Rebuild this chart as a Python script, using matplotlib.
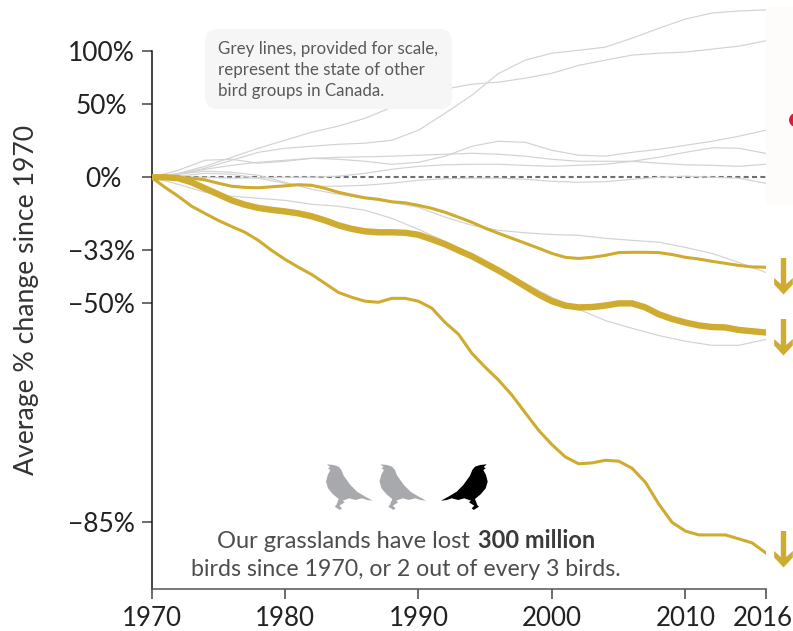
import numpy as np
import matplotlib
matplotlib.use("Agg")
import matplotlib.pyplot as plt
from matplotlib.patches import Polygon, Rectangle, Circle, FancyBboxPatch
from matplotlib.transforms import IdentityTransform, ScaledTranslation

W, H = 793, 631

# % change since 1970
gold_years = list(range(1970, 2017))
grey_years = list(range(1970, 2017, 2))

grasslands_all = [0, 0, -0.5, -2.7, -5.9, -8.9, -11.9, -14.0, -15.5, -16.4, -17.1, -18.0, -19.3, -21.1, -23.2, -24.7,
                  -25.7, -26.1, -26.1, -26.3, -27.1, -28.9, -30.8, -33.1, -35.2, -37.7, -40.1, -42.6, -45.1, -47.5,
                  -49.4, -50.6, -51.1, -51.0, -50.6, -50.0, -50.0, -51.1, -52.9, -54.1, -55.0, -55.7, -56.1, -56.2,
                  -56.8, -57.1, -57.4]
grasslands_upper = [0, 0, -0.3, -0.5, -1.4, -3.2, -4.8, -5.4, -5.6, -5.1, -4.6, -4.0, -4.3, -5.9, -7.9, -9.4,
                    -10.7, -11.4, -12.6, -13.1, -14.3, -15.7, -17.5, -19.7, -21.9, -24.4, -26.5, -28.5, -30.4, -32.3,
                    -34.2, -35.6, -36.0, -35.6, -34.9, -33.9, -33.8, -33.8, -33.9, -34.6, -35.6, -36.2, -37.0, -37.7,
                    -38.4, -38.9, -39.0]
grasslands_lower = [0, -5.3, -9.9, -14.7, -18.0, -21.1, -23.7, -26.1, -29.3, -33.1, -36.3, -39.0, -41.4, -44.2, -46.9,
                    -48.3, -49.4, -49.7, -48.6, -48.6, -49.4, -51.3, -55.0, -57.8, -62.0, -64.8, -67.2, -69.8, -72.6,
                    -75.1, -77.0, -78.5, -79.3, -79.2, -78.9, -79.0, -79.8, -81.3, -83.4, -85.0, -85.7, -86.0, -86.0,
                    -86.0, -86.3, -86.6, -87.3]

grey_lines = [
    [0, 1.7, 5.1, 9.8, 14.7, 17.3, 18.6, 19.9, 20.6, 22.6, 29.5, 42.2,
     57.0, 77.0, 90.4, 97.8, 101, 104.5, 114.8, 126.8, 138.7, 146.7, 149.5, 150.9],
    [0, 2.2, 6.2, 11.6, 17.3, 22.6, 28.1, 32.5, 38.3, 47, 55.2, 62.4,
     66.8, 68.7, 72.4, 77.2, 85, 90.4, 95.7, 97.8, 99, 102.3, 105.6, 111.7],
    [0, 3.9, 9.8, 10.4, 8.0, 9.2, 11, 10.4, 9.2, 7.4, 8.6, 12.3,
     18.6, 21.9, 21.2, 16, 12.9, 12.3, 14.7, 16.6, 19.2, 21.9, 25.3, 29.5],
    [0, 1.7, 4.5, 6.8, 8.6, 9.8, 11, 11.6, 11.9, 12.3, 12.9, 13.5,
     14.1, 13.5, 12.3, 10.4, 9.2, 9.2, 9.2, 8.0, 7.1, 6.8, 6.2, 7.4],
    [0, 0, 0, -0.5, -0.3, 0, 0, 0.6, 2.2, 4.5, 6.2, 7.1,
     7.4, 7.4, 6.8, 6.2, 6.8, 7.4, 9.2, 11.6, 14.7, 17.6, 17.3, 14.1],
    [0, 0.6, 2.2, 1.7, -0.5, -3.2, -4.8, -4.8, -4.3, -3.2, -1.6, -0.8,
     -0.5, -0.5, -1.1, -2.2, -2.7, -2.4, -1.1, 0, 0.6, 0, -0.5, -3.2],
    [0, 1.7, 3.4, 2.8, 1.1, -2.7, -6.4, -8.9, -10.9, -12.9, -15.2, -19.7,
     -23.2, -25.3, -26.3, -27.0, -27.3, -28.5, -29.3, -30.0, -32.0, -34.2, -37.4, -40.7],
    [0, -3.8, -7.9, -9.9, -10.9, -11.9, -13.8, -14.7, -16.6, -20.2, -24.9, -29.7,
     -34.5, -39.4, -44.2, -48.3, -51.6, -54.5, -56.4, -58.1, -59.4, -60.3, -60.3, -59.0],
]

y_ticks = [100, 50, 0, -33, -50, -85]
y_tick_labels = ["100%", "50%", "0%", "\u221233%", "\u221250%", "\u221285%"]
y_tick_pads = [5, 10.8, 14.4, 5, 5, 5]
x_ticks = [1970, 1980, 1990, 2000, 2010, 2016]

GOLD = "#cfab2f"
GREY = "#d2d2d2"

plt.rcParams["font.family"] = ["Lato", "DejaVu Sans"]


# the axis is a ratio scale: +100% and -50% sit the same distance from zero
def to_log(p):
    return np.log2(1 + np.asarray(p, dtype=float) / 100)


def from_log(v):
    return (2 ** np.asarray(v, dtype=float) - 1) * 100


def pix(x, y):
    # pixel position measured from the top left of the picture
    return (x, H - y)


fig = plt.figure(figsize=(W / 100, H / 100), dpi=100)
ax = fig.add_axes([151.5 / W, (H - 589) / H, 614 / W, 589 / H])
ax.set_yscale("function", functions=(to_log, from_log))
ax.set_xlim(1970, 2016)
ax.set_ylim(-89.6, 165)
ax.patch.set_alpha(0)

ax.axhline(0, color="#6d6e71", lw=1.5, dashes=(2.4, 1.6), zorder=1)
for vals in grey_lines:
    ax.plot(grey_years, vals, color=GREY, lw=0.85, zorder=2)
ax.plot(gold_years, grasslands_upper, color=GOLD, lw=2.2, zorder=3, solid_joinstyle="round")
ax.plot(gold_years, grasslands_lower, color=GOLD, lw=2.2, zorder=3, solid_joinstyle="round")
ax.plot(gold_years, grasslands_all, color=GOLD, lw=4.6, zorder=3, solid_joinstyle="round")

for side in ["top", "right"]:
    ax.spines[side].set_visible(False)
ax.spines["left"].set_bounds(-89.6, 100)
ax.spines["left"].set_linewidth(1.1)
ax.spines["left"].set_color("#111111")
ax.spines["bottom"].set_linewidth(1.1)
ax.spines["bottom"].set_color("#555555")

ax.set_yticks(y_ticks)
ax.set_yticklabels(y_tick_labels, fontsize=19, color="#222222")
ax.minorticks_off()
ax.tick_params(axis="y", length=7, width=1.1, color="#444444")
for tick, pad in zip(ax.yaxis.get_major_ticks(), y_tick_pads):
    tick.set_pad(pad)
ax.set_xticks(x_ticks)
ax.set_xticklabels(x_ticks, fontsize=18.6, color="#222222")
ax.tick_params(axis="x", length=7.5, width=1.1, color="#444444", pad=4.5)
# the last year label sits against the right edge of the picture
last = ax.get_xticklabels()[-1]
last.set_transform(last.get_transform() + ScaledTranslation(-2.5 / 100, 0, fig.dpi_scale_trans))

px = IdentityTransform()
fig.text(27 / W, 1 - 300 / H, "Average % change since 1970", rotation=90, fontsize=19.2,
         color="#333333", ha="center", va="center")

# note box
fig.add_artist(FancyBboxPatch(pix(205, 109), 247, 80, boxstyle="round,pad=0,rounding_size=13",
                              transform=px, fc="#f6f6f6", ec="none", zorder=0.5))
for line, ypos in zip(["Grey lines, provided for scale,", "represent the state of other",
                       "bird groups in Canada."], [54, 75, 96]):
    fig.text(218 / W, 1 - ypos / H, line, fontsize=12.2, color="#58595b", va="baseline")

# faint panel at the right with the edge of a red dot
fig.add_artist(Rectangle(pix(766, 205), 27, 198, transform=px, fc="#fefcfb", ec="none", zorder=0.5))
fig.add_artist(Circle(pix(796, 120), 7, transform=px, fc="#d7202e", ec="none"))

# arrows after the three gold lines
arrow = np.array([(-2.7, 0), (2.7, 0), (2.7, 26), (9.3, 20), (9.3, 26.5), (0, 36.5),
                  (-9.3, 26.5), (-9.3, 20), (-2.7, 26)])
for top in [258, 319, 531]:
    pts = [pix(783.5 + a, top + b) for a, b in arrow]
    fig.add_artist(Polygon(pts, closed=True, transform=px, fc=GOLD, ec="none"))

# three birds, two grey facing left and one black facing right
bird = np.array([(0, 36.7), (7.3, 32.7), (15.7, 27.7), (22.3, 21), (29, 11.7), (31.3, 6), (34, 2.7),
                 (39, 1), (45.7, 0.3), (42.7, 3), (44.7, 4.3), (42.3, 6), (45, 11), (46.7, 17.7),
                 (44.7, 24.3), (39.7, 30.3), (34, 35), (36.3, 41), (38, 42.7), (32.7, 46),
                 (30.7, 44.3), (33.3, 41.7), (28, 38.3), (30, 36.7), (23.3, 34.3), (17.3, 36),
                 (10.7, 34.3), (5.7, 36)])
for left, colour, flip in [(326, "#a7a9ac", True), (379.5, "#a7a9ac", True), (441, "#000000", False)]:
    pts = [pix(left + (46.7 - a if flip else a), 464 + b) for a, b in bird]
    fig.add_artist(Polygon(pts, closed=True, transform=px, fc=colour, ec="none"))

# caption
fig.text(217 / W, 1 - 547.5 / H, "Our grasslands have lost", fontsize=17, color="#4d4d4f", va="baseline")
fig.text(595 / W, 1 - 547.5 / H, "300 million", fontsize=17, color="#3a3a3c", va="baseline",
         ha="right", fontweight="bold")
fig.text(191 / W, 1 - 575.5 / H, "birds since 1970, or 2 out of every 3 birds.", fontsize=16.7,
         color="#4d4d4f", va="baseline")

fig.savefig("out.png", dpi=100)
